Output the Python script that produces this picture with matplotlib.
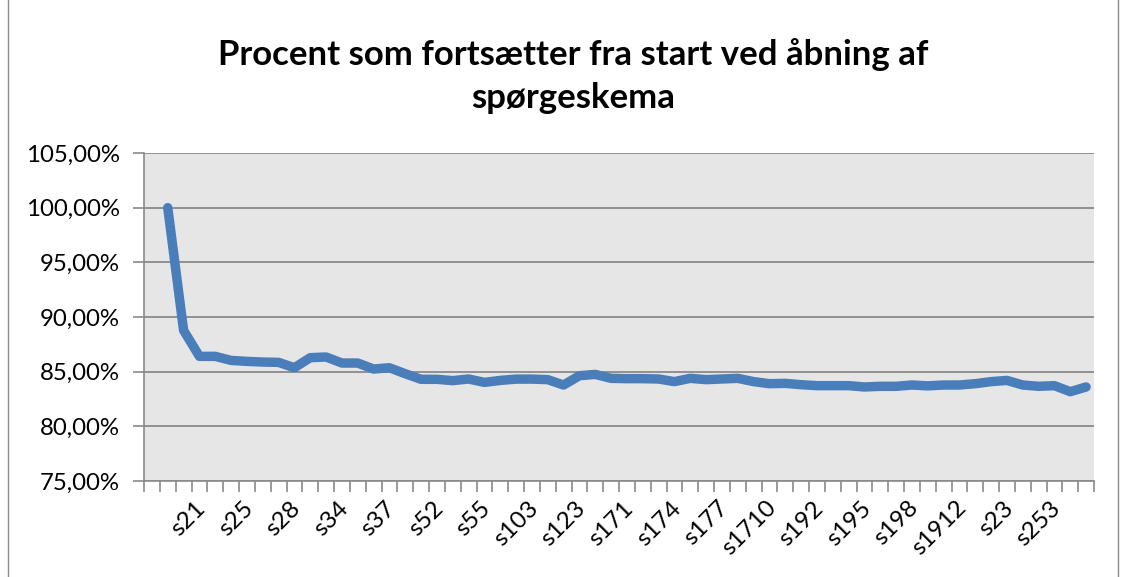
import matplotlib
matplotlib.use("Agg")
import matplotlib.pyplot as plt
import matplotlib.transforms as mtransforms
from matplotlib.lines import Line2D
from matplotlib.ticker import FixedLocator, FuncFormatter
import numpy as np

# share of respondents still in the survey, one value per question (slot 0 is empty)
pct = [
    None,
    100.00, 88.78, 86.40, 86.40, 86.03, 85.94, 85.88, 85.85, 85.36, 86.28,
    86.34, 85.79, 85.79, 85.24, 85.36, 84.81, 84.30, 84.30, 84.18, 84.33,
    84.02, 84.20, 84.32, 84.32, 84.27, 83.78, 84.63, 84.75, 84.39, 84.36,
    84.36, 84.33, 84.09, 84.39, 84.27, 84.33, 84.39, 84.09, 83.90, 83.93,
    83.81, 83.72, 83.72, 83.72, 83.60, 83.66, 83.66, 83.78, 83.70, 83.78,
    83.78, 83.90, 84.09, 84.20, 83.78, 83.66, 83.72, 83.17, 83.60,
]
tick_labels = ["s21", "s25", "s28", "s34", "s37", "s52", "s55", "s103", "s123",
               "s171", "s174", "s177", "s1710", "s192", "s195", "s198", "s1912",
               "s23", "s253"]
label_start, label_step = 3, 3
y_ticks = [75, 80, 85, 90, 95, 100, 105]
title = "Procent som fortsætter fra start ved åbning af\nspørgeskema"

plt.rcParams["font.family"] = ["Lato", "DejaVu Sans"]

W, H = 1127, 577
fig = plt.figure(figsize=(W / 100, H / 100), dpi=100)
fig.patch.set_facecolor("white")

# chart frame edges
for xpx in (8, 1118):
    fig.add_artist(Line2D([xpx / W, xpx / W], [0, 1], color="#8c8c8c", lw=1.0))

ax = fig.add_axes([144 / W, 1 - 481 / H, (1094 - 144) / W, (481 - 153) / H])
ax.set_facecolor("#e6e6e6")

n = len(pct)
x = np.arange(n)
y = np.array([np.nan if v is None else v for v in pct], dtype=float)
ax.plot(x, y, color="#4a7ebb", lw=6.8, solid_capstyle="round",
        solid_joinstyle="round", zorder=3)

ax.set_xlim(-0.5, n - 0.5)
ax.set_ylim(y_ticks[0], y_ticks[-1])

ax.yaxis.set_major_locator(FixedLocator(y_ticks))
ax.yaxis.set_major_formatter(
    FuncFormatter(lambda v, _: f"{v:.2f}%".replace(".", ",")))
ax.grid(axis="y", color="#8a8a8a", lw=1.3, zorder=1)
ax.set_axisbelow(True)

label_pos = np.arange(label_start, label_start + label_step * len(tick_labels), label_step)
ax.set_xticks(label_pos)
ax.set_xticklabels(tick_labels)
ax.set_xticks(np.arange(-0.5, n, 1), minor=True)
ax.tick_params(axis="x", which="major", length=0, pad=17, labelsize=17.5)
ax.tick_params(axis="x", which="minor", length=8, width=1.2, color="#8a8a8a")
ax.tick_params(axis="y", length=8, width=1.2, color="#8a8a8a", pad=9.5, labelsize=17.3)

shift = mtransforms.ScaledTranslation(3 / 100, 0, fig.dpi_scale_trans)
for lab in ax.get_xticklabels():
    lab.set_rotation(45)
    lab.set_ha("right")
    lab.set_va("center")
    lab.set_rotation_mode("anchor")
    lab.set_transform(lab.get_transform() + shift)

for side in ("top", "right"):
    ax.spines[side].set_visible(False)
for side in ("left", "bottom"):
    ax.spines[side].set_color("#8a8a8a")
    ax.spines[side].set_linewidth(1.2)

fig.text(573 / W, 1 - 76 / H, title, ha="center", va="center",
         fontsize=25, fontweight="bold", linespacing=1.42)

fig.savefig("out.png", dpi=100)
